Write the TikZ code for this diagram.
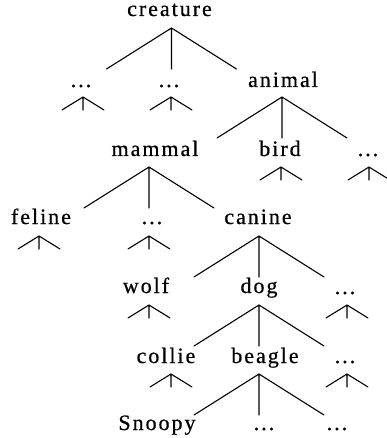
\documentclass[tikz,border=0pt]{standalone}
\usepackage{fontspec}
\setmainfont{Liberation Serif}[LetterSpace=9,FakeBold=0.6]
\begin{document}
\newcommand\mycaret[1]{%
  \path (#1-a) ++(-21,13) coordinate (#1-cl) (#1-a) ++(0,13) coordinate (#1-cm) (#1-a) ++(21,13) coordinate (#1-cr);
  \draw[edge] (#1-cl) -- (#1-a) -- (#1-cr) (#1-a) -- (#1-cm);}
\newcommand\mytree[4]{%
  \path (#1-a) ++(-65,41) coordinate (#2-t) (#1-a) ++(0,41) coordinate (#3-t) (#1-a) ++(65,41) coordinate (#4-t);
  \draw[edge] (#1-a) -- (#2-t) (#1-a) -- (#3-t) (#1-a) -- (#4-t);}
\newcommand\mydots{.\hspace{2pt}.\hspace{2pt}.}
\begin{tikzpicture}[x=1pt,y=-1pt,
  lbl/.style={anchor=base, inner sep=0pt, font=\fontsize{22}{23}\selectfont},
  edge/.style={line width=1.1pt, line cap=round}]
\useasboundingbox (0,0) rectangle (386,438);
% labels
\node[lbl] (creature) at (169.5,16) {creature};
\node[lbl] (d1) at (81,87) {\mydots};
\node[lbl] (d2) at (169,87) {\mydots};
\node[lbl] (animal) at (283,87) {animal};
\node[lbl] (mammal) at (155,156) {mammal};
\node[lbl] (bird) at (280,156) {bird};
\node[lbl] (d3) at (368,156) {\mydots};
\node[lbl] (feline) at (41,224) {feline};
\node[lbl] (d4) at (152,224) {\mydots};
\node[lbl] (canine) at (258,224) {canine};
\node[lbl] (wolf) at (146,293) {wolf};
\node[lbl] (dog) at (259,293) {dog};
\node[lbl] (d5) at (345,294) {\mydots};
\node[lbl] (collie) at (166,363) {collie};
\node[lbl] (beagle) at (265,363) {beagle};
\node[lbl] (d6) at (345,363) {\mydots};
\node[lbl] (snoopy) at (157,430) {Snoopy};
\node[lbl] (d7) at (264,430) {\mydots};
\node[lbl] (d8) at (337,430) {\mydots};
% apexes
\coordinate (creature-a) at (171.5,28);
\coordinate (d1-a) at (83,97);
\coordinate (d2-a) at (171,97);
\coordinate (animal-a) at (282,97);
\coordinate (mammal-a) at (149,167);
\coordinate (bird-a) at (281,167);
\coordinate (d3-a) at (369,167);
\coordinate (feline-a) at (39,236);
\coordinate (d4-a) at (149,236);
\coordinate (canine-a) at (259,236);
\coordinate (wolf-a) at (149,305);
\coordinate (dog-a) at (259,305);
\coordinate (d5-a) at (347,305);
\coordinate (collie-a) at (171,374);
\coordinate (beagle-a) at (259,374);
\coordinate (d6-a) at (347,374);
% tree edges
\mytree{creature}{d1}{d2}{animal}
\mytree{animal}{mammal}{bird}{d3}
\mytree{mammal}{feline}{d4}{canine}
\mytree{canine}{wolf}{dog}{d5}
\mytree{dog}{collie}{beagle}{d6}
\mytree{beagle}{snoopy}{d7}{d8}
% carets
\mycaret{d1}\mycaret{d2}\mycaret{bird}\mycaret{d3}\mycaret{feline}\mycaret{d4}
\mycaret{wolf}\mycaret{d5}\mycaret{collie}\mycaret{d6}
\end{tikzpicture}
\end{document}
